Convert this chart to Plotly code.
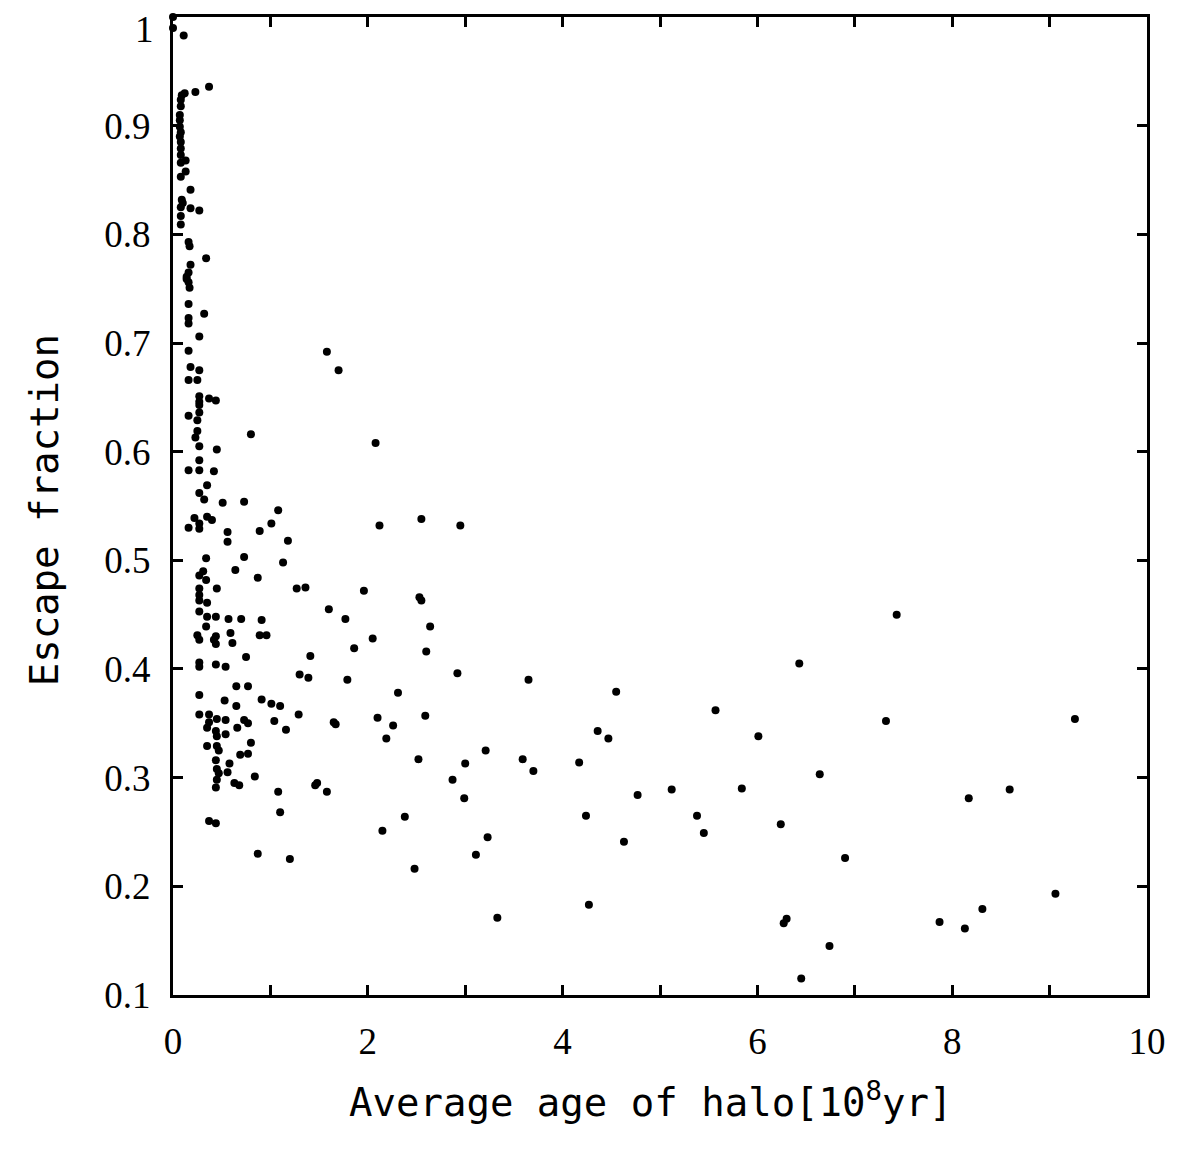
import plotly.graph_objects as go

# Average age of halo [10^8 yr]
age = [
    0.0, 0.0, 0.11, 0.37, 0.23, 0.12, 0.09, 0.08, 0.08, 0.07, 0.07, 0.07, 0.08, 0.07, 0.08, 0.08,
    0.08, 0.13, 0.08, 0.13, 0.08, 0.18, 0.09, 0.10, 0.18, 0.27, 0.08, 0.08, 0.08, 0.16, 0.17, 0.34,
    0.18, 0.16, 0.14, 0.14, 0.16, 0.17, 0.16, 0.32, 0.16, 0.16, 0.27, 1.58, 0.16, 1.70, 0.18, 0.27,
    0.16, 0.25, 0.27, 0.37, 0.44, 0.27, 0.27, 0.27, 0.16, 0.25, 0.25, 0.80, 0.23, 0.27, 0.45, 0.27,
    0.16, 0.27, 0.42, 0.35, 0.27, 0.32, 0.51, 0.73, 1.08, 0.22, 0.35, 0.40, 0.27, 1.01, 0.16, 0.27,
    0.89, 0.56, 0.56, 1.18,
    0.34, 0.73, 0.31, 0.27, 0.34, 0.64, 1.13, 0.87, 0.45, 0.27, 0.27, 0.27, 0.35, 1.27, 1.36, 0.27,
    1.60, 1.77, 0.35, 0.44, 0.57, 0.70, 0.91, 0.34, 0.25, 0.27, 0.44, 0.42, 0.44, 0.59, 0.61, 0.89,
    0.96, 0.75, 0.27, 0.27, 0.44, 0.54, 1.41, 1.30, 1.39, 1.79, 0.65, 0.77, 0.27, 0.53, 0.65, 0.91,
    1.01, 1.10, 1.29, 0.27, 0.37, 0.45, 0.37, 0.54, 0.73, 0.77, 1.04, 1.65, 1.67, 0.35, 0.44, 0.66,
    1.16, 0.45, 0.54, 0.80, 0.35, 0.45, 0.47, 0.77, 0.69, 0.44, 0.58, 0.45, 0.47, 0.56, 0.45, 0.44,
    0.63, 0.68, 0.84, 1.08, 1.10, 0.37, 0.44, 1.46, 1.48, 1.58, 0.87, 1.20,
    2.08, 2.12, 2.55, 2.95, 1.96, 2.53, 2.55, 2.64, 2.05, 1.86, 2.60, 2.92, 3.65, 2.31, 2.10, 2.59,
    2.26, 2.19, 4.36, 2.52, 3.21, 3.00, 3.59, 3.70, 4.17, 2.87, 2.99, 2.38, 2.15, 3.23, 3.11, 2.48,
    4.24, 4.27, 3.33,
    6.43, 4.55, 5.57, 4.47, 6.01, 6.64, 4.77, 5.12, 5.84, 5.38, 5.45, 6.24, 4.63, 6.90, 6.30, 6.27,
    6.74, 6.45, 7.43, 7.32, 9.26, 8.17, 8.59, 9.06, 8.31, 7.87, 8.13,
]

# Escape fraction
fesc = [
    1.000, 0.990, 0.983, 0.936, 0.931, 0.930, 0.928, 0.924, 0.918, 0.910, 0.905, 0.899, 0.894, 0.890, 0.885, 0.879,
    0.873, 0.868, 0.866, 0.858, 0.853, 0.841, 0.832, 0.829, 0.824, 0.822, 0.825, 0.817, 0.809, 0.793, 0.789, 0.778,
    0.772, 0.765, 0.761, 0.759, 0.756, 0.751, 0.736, 0.727, 0.723, 0.718, 0.706, 0.692, 0.693, 0.675, 0.678, 0.675,
    0.666, 0.666, 0.651, 0.649, 0.647, 0.646, 0.643, 0.636, 0.633, 0.629, 0.619, 0.616, 0.613, 0.605, 0.602, 0.592,
    0.583, 0.583, 0.582, 0.569, 0.562, 0.556, 0.553, 0.554, 0.546, 0.539, 0.540, 0.537, 0.534, 0.534, 0.530, 0.529,
    0.527, 0.526, 0.517, 0.518,
    0.502, 0.503, 0.490, 0.486, 0.482, 0.491, 0.498, 0.484, 0.474, 0.474, 0.468, 0.463, 0.461, 0.474, 0.475, 0.453,
    0.455, 0.446, 0.448, 0.448, 0.446, 0.446, 0.445, 0.439, 0.431, 0.427, 0.430, 0.427, 0.423, 0.433, 0.424, 0.431,
    0.431, 0.411, 0.406, 0.402, 0.404, 0.402, 0.412, 0.395, 0.392, 0.390, 0.384, 0.384, 0.376, 0.371, 0.366, 0.372,
    0.368, 0.366, 0.358, 0.358, 0.358, 0.354, 0.351, 0.353, 0.353, 0.350, 0.352, 0.351, 0.349, 0.346, 0.343, 0.346,
    0.344, 0.338, 0.340, 0.332, 0.329, 0.329, 0.325, 0.322, 0.321, 0.316, 0.313, 0.308, 0.304, 0.305, 0.298, 0.291,
    0.295, 0.293, 0.301, 0.287, 0.268, 0.260, 0.258, 0.293, 0.295, 0.287, 0.230, 0.225,
    0.608, 0.532, 0.538, 0.532, 0.472, 0.466, 0.463, 0.439, 0.428, 0.419, 0.416, 0.396, 0.390, 0.378, 0.355, 0.357,
    0.348, 0.336, 0.343, 0.317, 0.325, 0.313, 0.317, 0.306, 0.314, 0.298, 0.281, 0.264, 0.251, 0.245, 0.229, 0.216,
    0.265, 0.183, 0.171,
    0.405, 0.379, 0.362, 0.336, 0.338, 0.303, 0.284, 0.289, 0.290, 0.265, 0.249, 0.257, 0.241, 0.226, 0.170, 0.166,
    0.145, 0.115, 0.450, 0.352, 0.354, 0.281, 0.289, 0.193, 0.179, 0.167, 0.161,
]

x_tickvals = [0, 2, 4, 6, 8, 10]
x_ticktext = ["0", "2", "4", "6", "8", "10"]
# tick marks at every 0.1; the top label "1" is placed as an annotation so it stays inside the page
y_tickvals = [0.1, 0.2, 0.3, 0.4, 0.5, 0.6, 0.7, 0.8, 0.9, 1.0]
y_ticktext = ["0.1", "0.2", "0.3", "0.4", "0.5", "0.6", "0.7", "0.8", "0.9"]
y_top_value = 1.0
y_top_text = "1"

x_title = "Average age of halo[10<sup>8</sup>yr]"
y_title = "Escape fraction"

fig = go.Figure()
fig.add_trace(go.Scatter(
    x=age, y=fesc, mode="markers",
    marker=dict(color="black", size=8, line=dict(width=0)),
    cliponaxis=False, showlegend=False,
))

tick_font = dict(family="Liberation Serif, Times New Roman, serif", size=37, color="black")
title_font = dict(family="DejaVu Sans Mono, monospace", size=39, color="black")

axis_common = dict(
    showline=True, linewidth=3, linecolor="black", mirror="ticks",
    ticks="inside", ticklen=10, tickwidth=2.5, tickcolor="black",
    showgrid=False, zeroline=False, tickfont=tick_font,
    ticklabeloverflow="allow", automargin=False,
)

fig.update_xaxes(range=[0, 10], tickvals=x_tickvals, ticktext=x_ticktext,
                 ticklabelstandoff=12,
                 minor=dict(ticks="inside", dtick=1, tick0=0, ticklen=10, tickwidth=2.5,
                            tickcolor="black", showgrid=False),
                 **axis_common)
fig.update_yaxes(range=[0.0999, 1.0001], tickvals=y_tickvals[:-1], ticktext=y_ticktext,
                 ticklabelstandoff=12,
                 minor=dict(ticks="inside", tickvals=[y_tickvals[-1]], ticklen=10, tickwidth=2.5,
                            tickcolor="black", showgrid=False),
                 **axis_common)

fig.add_annotation(text=y_top_text, xref="paper", yref="y", x=0, y=y_top_value,
                   xanchor="right", yanchor="top", xshift=-17, yshift=10,
                   showarrow=False, font=tick_font)
fig.add_annotation(text=x_title, xref="paper", yref="paper", x=0.49, y=-0.107,
                   xanchor="center", yanchor="middle", showarrow=False, font=title_font)
fig.add_annotation(text=y_title, xref="paper", yref="paper", x=-0.131, y=0.496,
                   xanchor="center", yanchor="middle", textangle=-90, showarrow=False, font=title_font)

fig.update_layout(
    width=1180, height=1159,
    margin=dict(l=173, r=33, t=17, b=164, autoexpand=False),
    paper_bgcolor="white", plot_bgcolor="white",
)

fig.write_html("out.html")
